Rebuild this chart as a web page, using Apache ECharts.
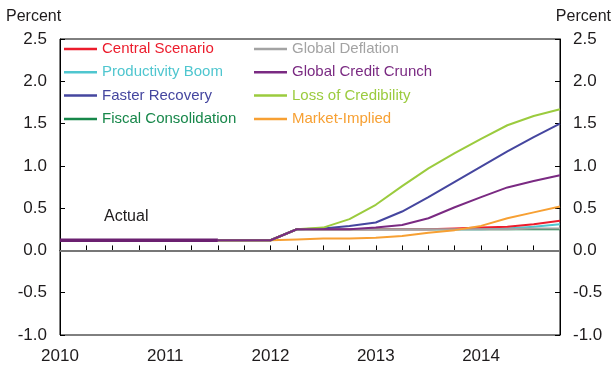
<!DOCTYPE html>
<html>
<head>
<meta charset="utf-8">
<script src="https://cdn.jsdelivr.net/npm/echarts@6/dist/echarts.min.js"></script>
<style>
  html, body { margin: 0; padding: 0; background: #fff; }
  #chart { width: 613px; height: 374px; }
</style>
</head>
<body>
<div id="chart"></div>
<script>
// Quarterly categories, 2010 Q1 to 2014 Q4
const quarters = [
  '2010Q1','2010Q2','2010Q3','2010Q4',
  '2011Q1','2011Q2','2011Q3','2011Q4',
  '2012Q1','2012Q2','2012Q3','2012Q4',
  '2013Q1','2013Q2','2013Q3','2013Q4',
  '2014Q1','2014Q2','2014Q3','2014Q4'
];

// Policy rate paths, percent
const actual        = [0.12,0.12,0.12,0.12,0.12,0.12,0.12,null,null,null,null,null,null,null,null,null,null,null,null,null];
const central       = [null,null,null,null,null,null,0.12,0.12,0.12,0.25,0.25,0.25,0.25,0.25,0.25,0.26,0.27,0.28,0.31,0.35];
const productivity  = [null,null,null,null,null,null,0.12,0.12,0.12,0.25,0.25,0.25,0.25,0.25,0.25,0.25,0.25,0.26,0.28,0.31];
const fasterRecov   = [null,null,null,null,null,null,0.12,0.12,0.12,0.25,0.26,0.29,0.33,0.46,0.63,0.81,0.99,1.17,1.34,1.50];
const fiscalConsol  = [null,null,null,null,null,null,0.12,0.12,0.12,0.25,0.25,0.25,0.25,0.25,0.25,0.25,0.25,0.25,0.25,0.25];
const globalDefl    = [null,null,null,null,null,null,0.12,0.12,0.12,0.25,0.25,0.25,0.25,0.25,0.25,0.25,0.25,0.25,0.26,0.26];
const creditCrunch  = [null,null,null,null,null,null,0.12,0.12,0.12,0.25,0.25,0.25,0.27,0.30,0.38,0.51,0.63,0.745,0.82,0.89];
const lossCred      = [null,null,null,null,null,null,0.12,0.12,0.12,0.25,0.27,0.37,0.54,0.76,0.97,1.15,1.32,1.48,1.59,1.67];
const marketImplied = [null,null,null,null,null,null,0.12,0.12,0.12,0.13,0.14,0.14,0.15,0.17,0.21,0.24,0.29,0.38,0.45,0.52];

const FONT = 'Liberation Sans, Arial, sans-serif';
const INK = '#1e1b1c';

const scenarios = [
  { name: 'Fiscal Consolidation', data: fiscalConsol,  color: '#17874a' },
  { name: 'Productivity Boom',    data: productivity,  color: '#4fc6cf' },
  { name: 'Central Scenario',     data: central,       color: '#ec1c2c' },
  { name: 'Global Deflation',     data: globalDefl,    color: '#a3a3a3' },
  { name: 'Market-Implied',       data: marketImplied, color: '#f7a033' },
  { name: 'Faster Recovery',      data: fasterRecov,   color: '#45469f' },
  { name: 'Loss of Credibility',  data: lossCred,      color: '#9bcb3e' },
  { name: 'Global Credit Crunch', data: creditCrunch,  color: '#7a2a82' }
];
const colorOf = {};
scenarios.forEach(s => { colorOf[s.name] = s.color; });

function legendCol(names, left) {
  return {
    orient: 'vertical',
    left: left,
    top: 41,
    padding: 0,
    itemGap: 7.3,
    itemWidth: 33,
    itemHeight: 2.5,
    icon: 'rect',
    selectedMode: false,
    textStyle: { fontFamily: FONT, fontSize: 15, lineHeight: 16, padding: [0, 0, 0, 0] },
    data: names.map(n => ({ name: n, textStyle: { color: colorOf[n] } }))
  };
}

const series = scenarios.map(s => ({
  name: s.name,
  type: 'line',
  data: s.data,
  showSymbol: false,
  symbol: 'none',
  lineStyle: { color: s.color, width: 2 },
  itemStyle: { color: s.color },
  emphasis: { disabled: true },
  z: 3
}));

series.unshift({
  name: 'Actual',
  type: 'line',
  data: actual,
  symbol: 'none',
  lineStyle: { color: '#6b2070', width: 3.5 },
  itemStyle: { color: '#6b2070' },
  emphasis: { disabled: true },
  z: 4,
  markLine: {
    silent: true,
    symbol: 'none',
    label: { show: false },
    lineStyle: { color: '#777', width: 2, type: 'solid' },
    data: [{ yAxis: 0 }]
  }
});

const yAxisBase = {
  type: 'value',
  min: -1,
  max: 2.5,
  interval: 0.5,
  axisLine: { show: true, lineStyle: { color: '#000', width: 1 } },
  axisTick: { show: true, inside: true, length: 5, lineStyle: { color: '#000' } },
  splitLine: { show: false },
  axisLabel: {
    fontFamily: FONT, fontSize: 17, color: INK, margin: 13,
    formatter: v => v.toFixed(1)
  }
};

const chart = echarts.init(document.getElementById('chart'), null, { renderer: 'canvas' });
chart.setOption({
  animation: false,
  backgroundColor: '#fff',
  grid: { left: 60, right: 53, top: 39, bottom: 39, show: true, borderColor: '#000', borderWidth: 1, backgroundColor: 'transparent' },
  legend: [
    legendCol(['Central Scenario', 'Productivity Boom', 'Faster Recovery', 'Fiscal Consolidation'], 64),
    legendCol(['Global Deflation', 'Global Credit Crunch', 'Loss of Credibility', 'Market-Implied'], 254)
  ],
  xAxis: {
    type: 'category',
    data: quarters,
    boundaryGap: false,
    axisLine: { show: true, lineStyle: { color: '#000', width: 1 } },
    axisTick: { show: true, inside: true, length: 5, interval: 0, lineStyle: { color: '#000' } },
    axisLabel: {
      interval: 3, fontFamily: FONT, fontSize: 17, color: INK, margin: 13,
      formatter: v => v.slice(0, 4)
    },
    splitLine: { show: false }
  },
  yAxis: [
    Object.assign({}, yAxisBase, { position: 'left' }),
    Object.assign({}, yAxisBase, { position: 'right' })
  ],
  graphic: [
    { type: 'text', left: 6, top: 9, style: { text: 'Percent', fontFamily: FONT, fontSize: 16, fill: INK } },
    { type: 'text', right: 2, top: 9, style: { text: 'Percent', fontFamily: FONT, fontSize: 16, fill: INK } },
    { type: 'text', left: 104, top: 209, style: { text: 'Actual', fontFamily: FONT, fontSize: 16, fill: INK } }
  ],
  series: series
});
</script>
</body>
</html>
